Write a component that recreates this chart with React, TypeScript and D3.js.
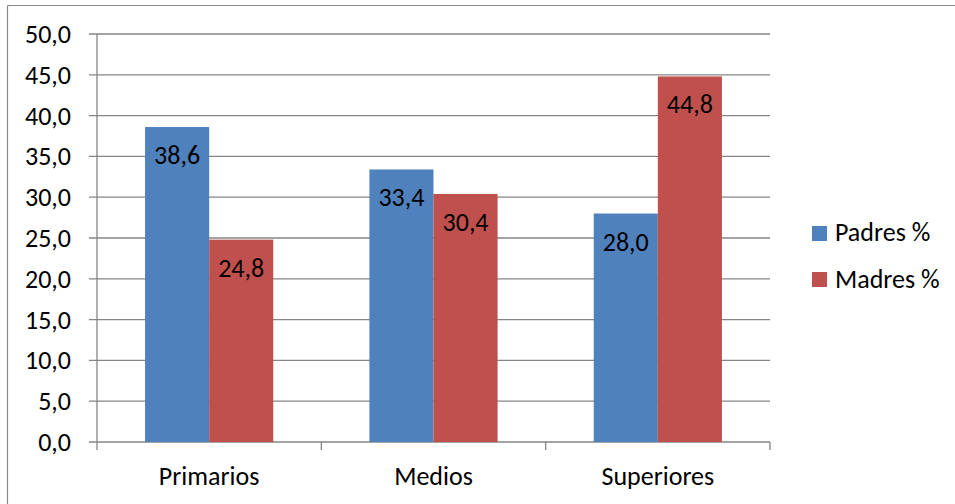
import React from "react";
import * as d3 from "d3";

const categories = ["Primarios", "Medios", "Superiores"];
const seriesNames = ["Padres %", "Madres %"];
const padres = [38.6, 33.4, 28.0];
const madres = [24.8, 30.4, 44.8];
const yTicks = [0, 5, 10, 15, 20, 25, 30, 35, 40, 45, 50];
const colors = ["#4F81BD", "#C0504D"];

const W = 955, H = 504;
const FONT = "Carlito, Calibri, 'Open Sans', sans-serif";

export default function App() {
  const x0 = 97, x1 = 770, yTop = 34, yBot = 442;
  const y = d3.scaleLinear().domain([0, 50]).range([yBot, yTop]);
  const xb = d3.scaleBand().domain(categories).range([x0, x1]).paddingInner(0).paddingOuter(0);
  const inner = d3.scaleBand().domain(seriesNames).range([0, xb.bandwidth()]).paddingInner(0).paddingOuter(0.75);
  const series = [padres, madres];
  const fmt = (v: number) => v.toFixed(1).replace(".", ",");
  const FS = 26;
  return (
    <svg width={W} height={H} style={{ position: "absolute", left: 0, top: 0 }} fontFamily={FONT}>
      <rect x={0} y={0} width={W} height={H} fill="#fff" />
      <line x1={7.5} x2={W} y1={5.5} y2={5.5} stroke="#898989" strokeWidth={1.2} />
      <line x1={7.5} x2={7.5} y1={5.5} y2={H} stroke="#898989" strokeWidth={1.2} />
      {yTicks.map((t) => (
        <g key={t}>
          <line x1={89} x2={x1} y1={y(t)} y2={y(t)} stroke="#868686" strokeWidth={1.3} />
          <text x={71} y={y(t) + 9} textAnchor="end" fontSize={FS} fill="#000">{fmt(t)}</text>
        </g>
      ))}
      <line x1={x0} x2={x0} y1={yTop} y2={yBot + 8} stroke="#868686" strokeWidth={1.3} />
      {categories.map((c) => (
        <line key={"t" + c} x1={xb(c)! + xb.bandwidth()} x2={xb(c)! + xb.bandwidth()} y1={yBot} y2={yBot + 8} stroke="#868686" strokeWidth={1.3} />
      ))}
      {categories.map((c, i) => (
        <g key={c}>
          {series.map((s, j) => {
            const bx = xb(c)! + inner(seriesNames[j])!;
            const bw = inner.bandwidth();
            return (
              <g key={j}>
                <rect x={bx} y={y(s[i])} width={bw} height={yBot - y(s[i])} fill={colors[j]} />
                <text x={bx + bw / 2} y={y(s[i]) + 37} textAnchor="middle" fontSize={FS} fill="#000">{fmt(s[i])}</text>
              </g>
            );
          })}
          <text x={xb(c)! + xb.bandwidth() / 2} y={485} textAnchor="middle" fontSize={FS} fill="#000">{c}</text>
        </g>
      ))}
      {seriesNames.map((n, j) => (
        <g key={n}>
          <rect x={812} y={226 + j * 46} width={15} height={15} fill={colors[j]} />
          <text x={835} y={241 + j * 47} fontSize={FS} fill="#000">{n}</text>
        </g>
      ))}
    </svg>
  );
}
